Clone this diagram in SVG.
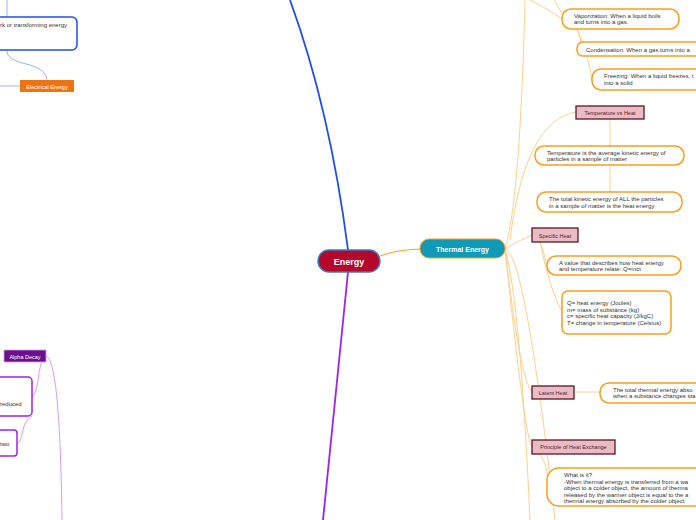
<svg xmlns="http://www.w3.org/2000/svg" width="696" height="520" viewBox="0 0 696 520">
<style>
text{font-family:"Liberation Sans",Arial,sans-serif;font-size:6px;fill:#333}
.ob{fill:#fff;stroke:#f99f1d;stroke-width:1.5}
.pk{fill:#e8bcc4;stroke:#5e1526;stroke-width:1.3}
.pt{fill:#5e1526;font-size:5.5px}
.oc{fill:none;stroke:#fdd08e;stroke-width:1}
</style>
<rect width="696" height="520" fill="#fff"/>
<g id="connectors">
<path d="M290 0 Q330 110 348 250" fill="none" stroke="#1f4fe8" stroke-width="1.8"/>
<path d="M348 272 Q335 400 323 520" fill="none" stroke="#a020f0" stroke-width="1.8"/>
<path d="M380 256 Q395 250 420 249" fill="none" stroke="#f99f1d" stroke-width="1"/>
<path d="M505 249 Q520 200 525 0" class="oc"/>
<path d="M505 249 Q520 300 530 520" class="oc"/>
<path d="M505 249 Q525 252 555 520" class="oc"/>
<path d="M530 0 Q550 10 562 19" class="oc"/>
<path d="M555 0 Q560 15 575 25 Q585 40 577 49" class="oc"/>
<path d="M575 25 Q590 60 592 80" class="oc"/>
<path d="M510 240 Q525 120 576 112" class="oc"/>
<path d="M610 119 L610 146 M610 165 L610 192" class="oc"/>
<path d="M505 249 Q520 240 532 235" class="oc"/>
<path d="M540 242 Q545 255 547 266 M540 242 Q550 290 562 312" class="oc"/>
<path d="M505 249 Q520 380 532 392" class="oc"/>
<path d="M574 392 L600 392" class="oc"/>
<path d="M505 249 Q525 440 532 447" class="oc"/>
<path d="M540 454 Q550 470 547 487" class="oc"/>
<path d="M7 0 L7 17 M7 50 Q5 60 30 65 Q47 70 47 80 M0 86 L20 86" fill="none" stroke="#9eb4f5" stroke-width="1"/>
<path d="M46 356 Q60 360 62 520 M46 356 Q40 360 38 380 Q36 395 32 397 M32 416 Q25 420 23 430 Q20 445 17 443" fill="none" stroke="#d79cf5" stroke-width="1"/>
</g>
<g id="energy"><rect x="318" y="250" width="62" height="22" rx="11" fill="#b5072b" stroke="#3d7bbf" stroke-width="1.5"/><text x="349" y="265" text-anchor="middle" style="font-size:9px;font-weight:bold;fill:#fff">Energy</text></g>
<g id="thermal"><rect x="420" y="239" width="85" height="19" rx="9" fill="#1199b8" stroke="#f99f1d" stroke-width="1"/><text x="462.5" y="251.5" text-anchor="middle" style="font-size:7px;font-weight:bold;fill:#fff">Thermal Energy</text></g>
<g id="work"><rect x="-10" y="17" width="87" height="33" rx="5" fill="#fff" stroke="#1f4fe8" stroke-width="1.5"/><text x="0" y="27">rk or transforming energy</text></g>
<g id="electrical"><rect x="20" y="80" width="54" height="12" fill="#ee7311"/><text x="47" y="88.5" text-anchor="middle" style="font-size:5.5px;fill:#fff">Electrical Energy</text></g>
<g id="alpha"><rect x="4" y="350" width="42" height="12" fill="#6a0f8e" stroke="#d79cf5" stroke-width="0.8"/><text x="25" y="358.5" text-anchor="middle" style="font-size:5.5px;fill:#fff">Alpha Decay</text></g>
<g id="reduced"><rect x="-10" y="377" width="42" height="39" rx="4" fill="#fff" stroke="#a020f0" stroke-width="1.5"/><text x="0" y="406">reduced</text></g>
<g id="two"><rect x="-10" y="430" width="27" height="26" rx="3" fill="#fff" stroke="#a020f0" stroke-width="1.5"/><text x="0" y="446">two</text></g>
<g id="vapor"><rect x="562" y="9" width="117" height="20" rx="9" class="ob"/><text x="574" y="17.5">Vaporization: When a liquid boils</text><text x="574" y="24">and turns into a gas.</text></g>
<g id="cond"><rect x="577" y="42" width="130" height="14" rx="6" class="ob"/><text x="586" y="51.5">Condensation: When a gas turns into a</text></g>
<g id="freeze"><rect x="592" y="69" width="115" height="21" rx="9" class="ob"/><text x="604" y="78">Freezing: When a liquid freezes, t</text><text x="604" y="85">into a solid</text></g>
<g id="tvh"><rect x="576" y="106" width="68" height="13" class="pk"/><text x="610" y="114.5" text-anchor="middle" class="pt">Temperature vs Heat</text></g>
<g id="temp"><rect x="535" y="146" width="149" height="19" rx="9" class="ob"/><text x="547" y="154.5">Temperature is the average kinetic energy of</text><text x="547" y="161">particles in a sample of matter</text></g>
<g id="total"><rect x="537" y="192" width="145" height="20" rx="9" class="ob"/><text x="549" y="201">The total kinetic energy of ALL the particles</text><text x="549" y="208">in a sample of matter is the heat energy</text></g>
<g id="spec"><rect x="532" y="228" width="46" height="14" class="pk"/><text x="555" y="237.5" text-anchor="middle" class="pt">Specific Heat</text></g>
<g id="value"><rect x="547" y="256" width="134" height="19" rx="9" class="ob"/><text x="559" y="264.5">A value that describes how heat energy</text><text x="559" y="271">and temperature relate: Q=mct</text></g>
<g id="q"><rect x="562" y="291" width="109" height="43" rx="6" class="ob"/><text x="567" y="305">Q= heat energy (Joules)</text><text x="567" y="311.5">m= mass of substance (kg)</text><text x="567" y="318">c= specific heat capacity (J/kgC)</text><text x="567" y="324.5">T= change in temperature (Celsius)</text></g>
<g id="latent"><rect x="532" y="386" width="42" height="13" class="pk"/><text x="553" y="394.5" text-anchor="middle" class="pt">Latent Heat</text></g>
<g id="ltext"><rect x="600" y="383" width="110" height="20" rx="9" class="ob"/><text x="613" y="391.5">The total thermal energy abso</text><text x="613" y="398">when a substance changes sta</text></g>
<g id="phe"><rect x="532" y="440" width="83" height="14" class="pk"/><text x="573.5" y="449" text-anchor="middle" class="pt">Principle of Heat Exchange</text></g>
<g id="what"><rect x="547" y="468" width="160" height="38" rx="12" class="ob"/><text x="564" y="477">What is it?</text><text x="564" y="483.5">-When thermal energy is transferred from a wa</text><text x="564" y="490">object to a colder object, the amount of therma</text><text x="564" y="496.5">released by the warmer object is equal to the a</text><text x="564" y="503">thermal energy absorbed by the colder object</text></g>
</svg>
